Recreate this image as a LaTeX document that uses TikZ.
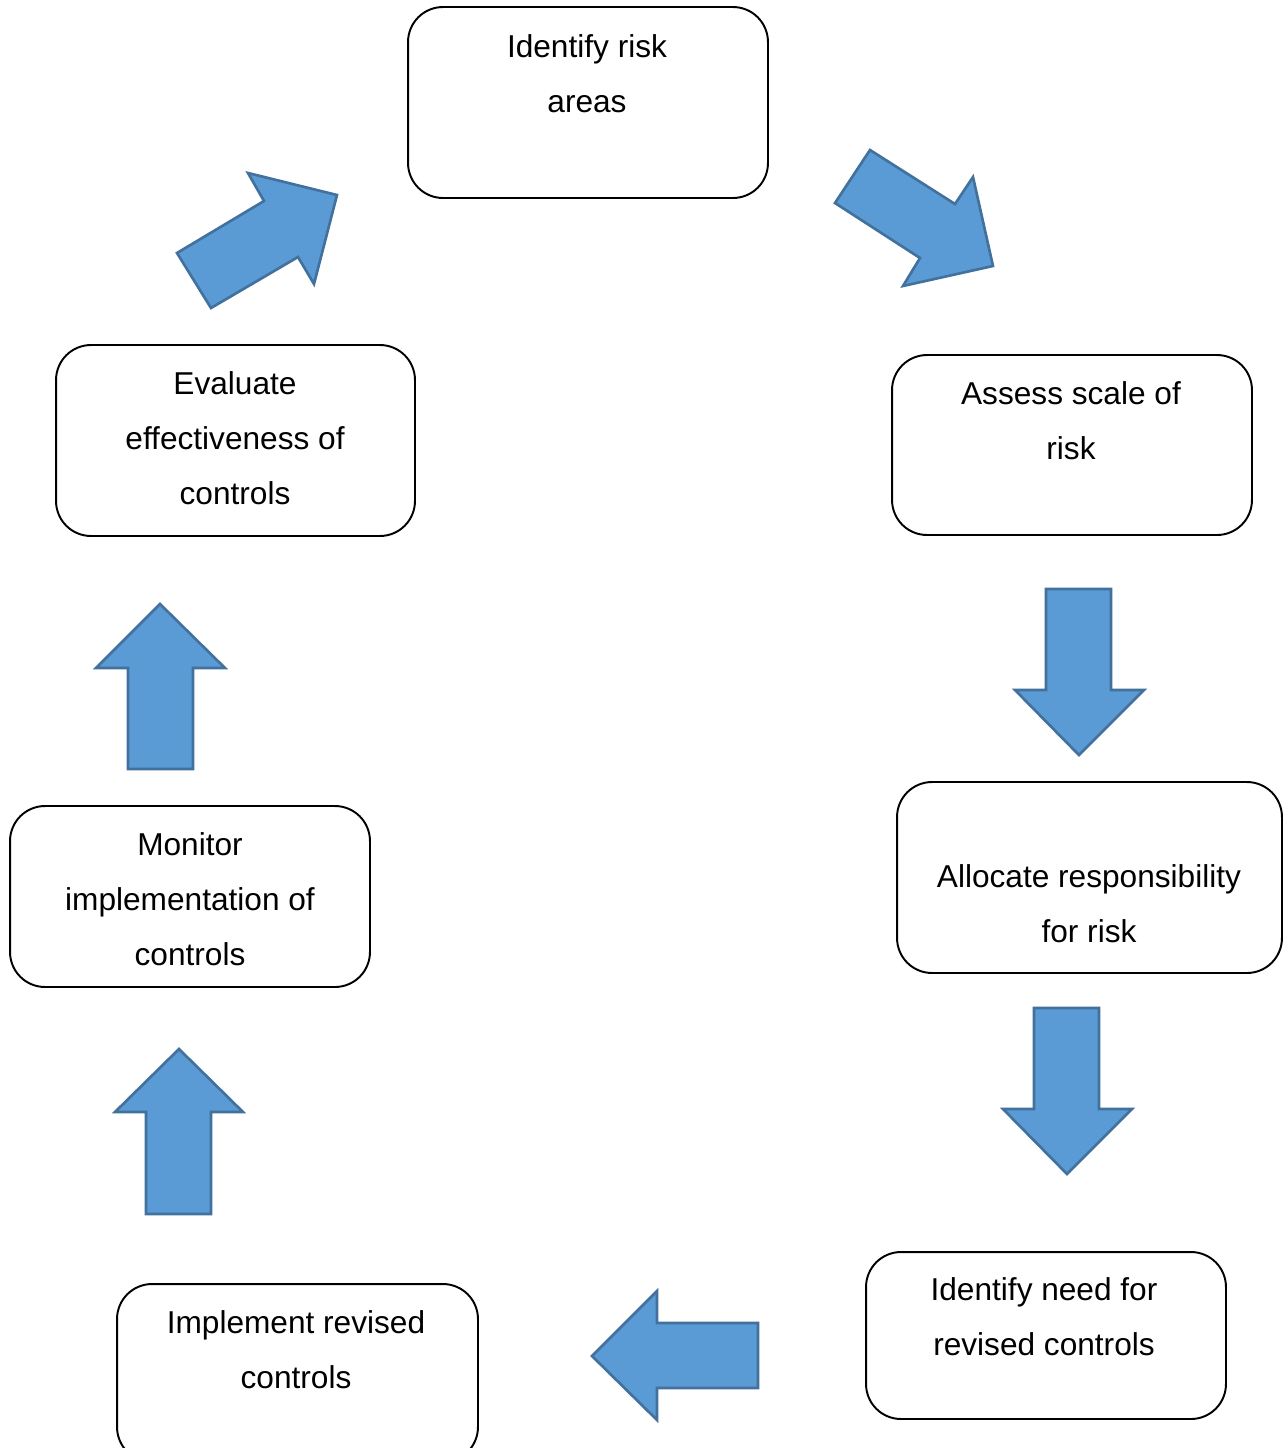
\documentclass[tikz,border=0pt]{standalone}
\usepackage{fontspec}
\setmainfont{Liberation Sans}
\definecolor{arrowfill}{HTML}{5B9BD5}
\definecolor{arrowline}{HTML}{41719C}
\begin{document}
\begin{tikzpicture}[x=0.02cm,y=-0.02cm,
  box/.style={draw=black, line width=1.1pt, rounded corners=0.7cm, inner sep=0pt, fill=white},
  lbl/.style={align=center, font=\fontsize{18}{31.3}\selectfont, inner sep=0pt},
  blockarrow/.style={fill=arrowfill, draw=arrowline, line width=1.5pt, line join=miter}]
\useasboundingbox (0,0) rectangle (1284,1448);
\clip (0,0) rectangle (1284,1448);
\fill[white] (0,0) rectangle (1284,1448);
% boxes
\node[box, minimum width=7.2cm, minimum height=3.82cm] (b1) at (588,102.5) {};
\node[box, minimum width=7.2cm, minimum height=3.6cm] (b2) at (1072,445) {};
\node[box, minimum width=7.7cm, minimum height=3.82cm] (b3) at (1089.5,877.5) {};
\node[box, minimum width=7.2cm, minimum height=3.34cm] (b4) at (1046,1335.5) {};
\node[box, minimum width=7.22cm, minimum height=3.56cm] (b5) at (297.5,1373) {};
\node[box, minimum width=7.2cm, minimum height=3.62cm] (b6) at (190,896.5) {};
\node[box, minimum width=7.18cm, minimum height=3.82cm] (b7) at (235.5,440.5) {};
% texts
\node[lbl] (t1) at (587,73.5) {Identify risk\\areas};
\node[lbl] (t2) at (1071,420.5) {Assess scale of\\risk};
\node[lbl] (t3) at (1089,903.5) {Allocate responsibility\\for risk};
\node[lbl] (t4) at (1044,1316.5) {Identify need for\\revised controls};
\node[lbl] (t5) at (296,1349.5) {Implement revised\\controls};
\node[lbl] (t6) at (190,899) {Monitor\\implementation of\\controls};
\node[lbl] (t7) at (235,438) {Evaluate\\effectiveness of\\controls};
% block arrows
\draw[blockarrow] (177,253) -- (264,201) -- (248,173) -- (337,195) -- (314,284) -- (298,257) -- (211,308) -- cycle;
\draw[blockarrow] (870,150) -- (955,204) -- (973,177) -- (993,266) -- (903,286) -- (920,258) -- (835,203) -- cycle;
\draw[blockarrow] (1046,589) -- (1111,589) -- (1111,690) -- (1144,690) -- (1079,755) -- (1015,690) -- (1046,690) -- cycle;
\draw[blockarrow] (1034,1008) -- (1099,1008) -- (1099,1109) -- (1132,1109) -- (1067,1174) -- (1003,1109) -- (1034,1109) -- cycle;
\draw[blockarrow] (758,1323) -- (758,1388) -- (657,1388) -- (657,1420) -- (592,1356) -- (657,1291) -- (657,1323) -- cycle;
\draw[blockarrow] (146,1214) -- (211,1214) -- (211,1112) -- (243,1112) -- (179,1049) -- (115,1112) -- (146,1112) -- cycle;
\draw[blockarrow] (128,769) -- (193,769) -- (193,668) -- (225,668) -- (160,604) -- (96,668) -- (128,668) -- cycle;
\end{tikzpicture}
\end{document}
